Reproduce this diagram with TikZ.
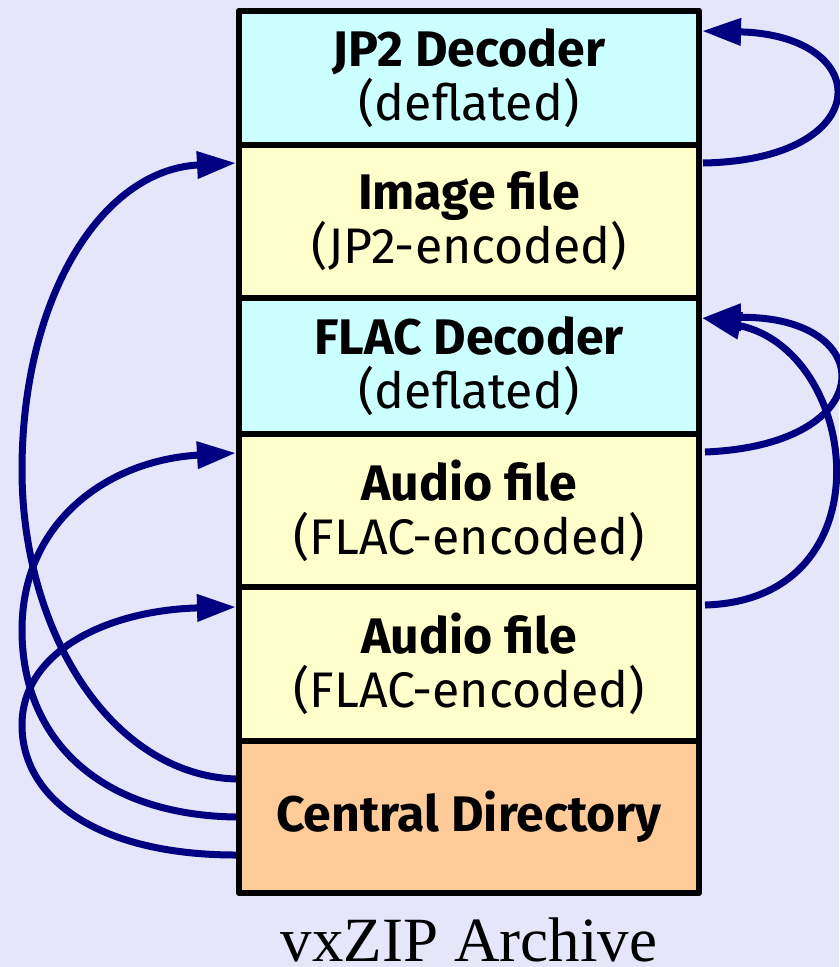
\documentclass[tikz,border=0pt]{standalone}
\usepackage{fontspec}
\setmainfont{Liberation Serif}
\newfontfamily\boxfont{Fira Sans}
\usetikzlibrary{arrows.meta}
\definecolor{bgcol}{HTML}{E6E6FA}
\definecolor{deccol}{HTML}{CCFFFF}
\definecolor{filecol}{HTML}{FFFFCC}
\definecolor{dircol}{HTML}{FFCC99}
\definecolor{linkcol}{HTML}{000080}
\tikzset{
  part/.style={draw=black, line width=6pt, line join=round, minimum width=460pt,
    inner sep=0pt, align=center, text=black,
    font=\boxfont\fontsize{50}{54}\selectfont},
  link/.style={draw=linkcol, line width=7pt,
    -{Triangle[length=39pt, width=26pt]}},
}
\begin{document}
\begin{tikzpicture}[x=1pt, y=-1pt]
  \useasboundingbox[fill=bgcol] (0,0) rectangle (839,967);

  % archive members, top to bottom
  \node[part, fill=deccol,  minimum height=134.5pt] (jp2)  at (469,77.75)
    {\textbf{JP2 Decoder}\\(deflated)};
  \node[part, fill=filecol, minimum height=153pt]   (img)  at (469,221.5)
    {\textbf{Image file}\\(JP2-encoded)};
  \node[part, fill=deccol,  minimum height=136pt]   (flac) at (469,366)
    {\textbf{FLAC Decoder}\\(deflated)};
  \node[part, fill=filecol, minimum height=153pt]   (aud1) at (469,510.5)
    {\textbf{Audio file}\\(FLAC-encoded)};
  \node[part, fill=filecol, minimum height=154pt]   (aud2) at (469,664)
    {\textbf{Audio file}\\(FLAC-encoded)};
  \node[part, fill=dircol,  minimum height=152pt]   (cd)   at (469,817)
    {\textbf{Central Directory}};

  \node[anchor=base, inner sep=0pt, font=\fontsize{63}{70}\selectfont]
    (cap) at (469,961) {vxZIP Archive};

  % files point to their decoders
  \draw[link] ([shift={(1pt,-21pt)}]img.north east)
    .. controls (877,160) and (876,35) .. ([yshift=-23.5pt]jp2.north east);
  \draw[link] ([shift={(3pt,-21pt)}]aud1.north east)
    .. controls (883,445) and (880,315) .. ([yshift=-23pt]flac.north east);
  \draw[link] ([shift={(3pt,-21pt)}]aud2.north east)
    .. controls (890,600) and (860,350) .. ([yshift=-23pt]flac.north east);

  % central directory entries point to the files
  \draw[link] ([yshift=38pt]cd.west)
    .. controls (110,775) and (22,630) .. (22,470)
    .. controls (22,300) and (100,170) .. ([yshift=-21pt]img.north west);
  \draw[link] (cd.west)
    .. controls (100,815) and (22,740) .. (22,630)
    .. controls (22,520) and (110,460) .. ([yshift=-22pt]aud1.north west);
  \draw[link] ([yshift=-38pt]cd.west)
    .. controls (100,855) and (22,800) .. (22,725)
    .. controls (22,650) and (110,610) .. ([yshift=-23pt]aud2.north west);
\end{tikzpicture}
\end{document}
